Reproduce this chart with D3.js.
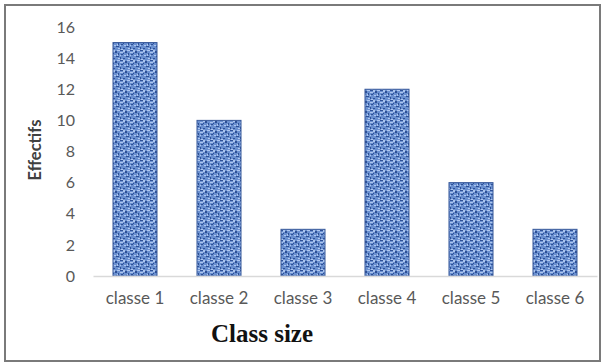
<!DOCTYPE html>
<html>
<head>
<meta charset="utf-8">
<script src="https://cdn.jsdelivr.net/npm/d3@7"></script>
<style>
  html, body { margin: 0; padding: 0; background: #fff; }
  svg { display: block; }
</style>
</head>
<body>
<svg id="chart" width="605" height="364"></svg>
<script>
// Class frequencies
const categories = ["classe 1", "classe 2", "classe 3", "classe 4", "classe 5", "classe 6"];
const values = [15, 10, 3, 12, 6, 3];
const yTicks = [0, 2, 4, 6, 8, 10, 12, 14, 16];
const xTitle = "Class size";
const yTitle = "Effectifs";

const W = 605, H = 364;
const svg = d3.select("#chart");

// outer frame
svg.append("rect")
  .attr("x", 5).attr("y", 5).attr("width", W - 10).attr("height", H - 8)
  .attr("fill", "#fff").attr("stroke", "#7a7a7a").attr("stroke-width", 2);

// woven texture for the bars
const defs = svg.append("defs");
const pat = defs.append("pattern")
  .attr("id", "weave").attr("patternUnits", "userSpaceOnUse")
  .attr("width", 10).attr("height", 10);
pat.append("rect").attr("width", 10).attr("height", 10).attr("fill", "#6a90d0");
const dark = [[0,0,3,1],[5,1,2,2],[1,4,2,1],[6,6,3,1],[0,7,1,2],[3,3,1,1],[8,3,1,2],[3,8,2,1]];
dark.forEach(d => pat.append("rect").attr("x", d[0]).attr("y", d[1])
  .attr("width", d[2]).attr("height", d[3]).attr("fill", "#2d4f95"));
const light = [[3,0,2,2],[0,2,3,1],[7,0,3,1],[4,5,2,1],[1,9,2,1],[7,4,1,2],[0,5,1,1],[8,8,2,1]];
light.forEach(d => pat.append("rect").attr("x", d[0]).attr("y", d[1])
  .attr("width", d[2]).attr("height", d[3]).attr("fill", "#aec6ee"));

const x = d3.scaleBand().domain(categories).range([93, 597]).paddingInner(0.476).paddingOuter(0.238);
const y = d3.scaleLinear().domain([0, 16]).range([276, 27]);

const labelFont = "Lato, 'Open Sans', sans-serif";

// y axis labels
const yAxis = svg.append("g").attr("transform", "translate(75,0)")
  .call(d3.axisLeft(y).tickValues(yTicks).tickSize(0).tickPadding(0));
yAxis.select(".domain").remove();
yAxis.selectAll("text")
  .attr("font-family", labelFont)
  .attr("font-size", 16).attr("fill", "#595959");

// bars
svg.append("g").selectAll("rect").data(values).join("rect")
  .attr("x", (d, i) => x(categories[i]))
  .attr("y", d => y(d))
  .attr("width", x.bandwidth())
  .attr("height", d => y(0) - y(d))
  .attr("fill", "url(#weave)")
  .attr("stroke", "#38599a").attr("stroke-width", 1);

// x axis
const xAxis = svg.append("g").attr("transform", `translate(0,${y(0)})`)
  .call(d3.axisBottom(x).tickSize(0).tickPadding(16));
xAxis.select(".domain").attr("stroke", "#d9d9d9").attr("stroke-width", 1.5);
xAxis.selectAll("text")
  .attr("font-family", labelFont)
  .attr("font-size", 17).attr("fill", "#595959");

// axis titles
svg.append("text")
  .attr("x", 262).attr("y", 342).attr("text-anchor", "middle")
  .attr("font-family", "'Liberation Serif', 'Times New Roman', serif")
  .attr("font-weight", "bold").attr("font-size", 25).attr("fill", "#111")
  .text(xTitle);

svg.append("text")
  .attr("transform", "translate(41,150) rotate(-90)")
  .attr("text-anchor", "middle")
  .attr("font-family", labelFont)
  .attr("font-weight", "bold").attr("font-size", 16.5).attr("fill", "#404040")
  .text(yTitle);
</script>
</body>
</html>
